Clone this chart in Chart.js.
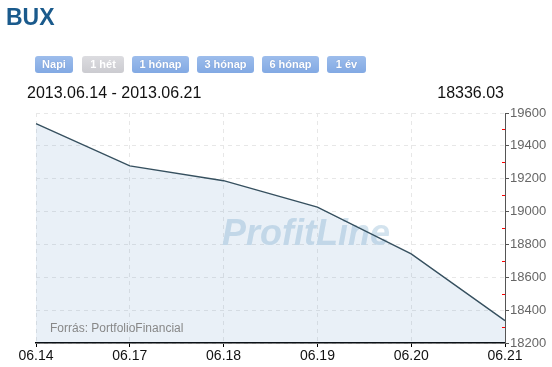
<!DOCTYPE html>
<html>
<head>
<meta charset="utf-8">
<script src="https://cdn.jsdelivr.net/npm/chart.js@4.4.0/dist/chart.umd.min.js"></script>
<style>
  html, body { margin: 0; padding: 0; background: #fff; width: 552px; height: 367px; overflow: hidden; font-family: "Liberation Sans", Arial, sans-serif; }
  #wrap { position: relative; width: 552px; height: 367px; }
  #c { position: absolute; left: 0; top: 0; }
  .abs { position: absolute; white-space: nowrap; }
  #title { left: 6px; top: 4px; font-size: 23px; font-weight: bold; color: #1a5a8c; }
  .btn { position: absolute; top: 56px; height: 17px; line-height: 17px; border-radius: 3px; color: #fff; font-size: 11px; font-weight: bold; text-align: center;
         background: linear-gradient(#9dbdec, #82a9e3); text-shadow: 0 0 1px rgba(80,110,170,0.5); }
  .btn.off { background: linear-gradient(#dcdce0, #cbcbd0); text-shadow: none; }
  #range { left: 27px; top: 84px; font-size: 16px; color: #111; }
  #last { right: 48px; top: 84px; font-size: 16px; color: #111; }
  #src { left: 50px; top: 321px; font-size: 12px; color: #888; }
</style>
</head>
<body>
<div id="wrap">
  <canvas id="c" width="552" height="367"></canvas>
  <div id="title" class="abs">BUX</div>
  <div id="btns"></div>
  <div id="range" class="abs"></div>
  <div id="last" class="abs"></div>
  <div id="src" class="abs">Forrás: PortfolioFinancial</div>
</div>
<script>
const categories = ["06.14", "06.17", "06.18", "06.19", "06.20", "06.21"];
const values = [19535, 19278, 19188, 19027, 18742, 18336.03];
const yTicks = [18200, 18400, 18600, 18800, 19000, 19200, 19400, 19600];
const buttonLabels = ["Napi", "1 hét", "1 hónap", "3 hónap", "6 hónap", "1 év"];
const activeButton = "1 hét";
const dateRange = "2013.06.14 - 2013.06.21";
const lastValue = "18336.03";

const btnGeom = [[35,38],[82,42],[132,57],[197,57],[262,57],[327,39]];
const btns = document.getElementById('btns');
buttonLabels.forEach((t, i) => {
  const d = document.createElement('div');
  d.className = 'btn' + (t === activeButton ? ' off' : '');
  d.style.left = btnGeom[i][0] + 'px';
  d.style.width = btnGeom[i][1] + 'px';
  d.textContent = t;
  btns.appendChild(d);
});
document.getElementById('range').textContent = dateRange;
document.getElementById('last').textContent = lastValue;

const extras = {
  id: 'extras',
  beforeDatasetsDraw(chart) {
    const ctx = chart.ctx;
    ctx.save();
    ctx.font = 'italic bold 36px "Liberation Sans", Arial, sans-serif';
    ctx.fillStyle = '#d3e3ee';
    ctx.textBaseline = 'alphabetic';
    ctx.textAlign = 'center';
    ctx.fillText('ProfitLine', 306, 245);
    ctx.restore();
  },
  afterDraw(chart) {
    const ctx = chart.ctx, y = chart.scales.y;
    ctx.save();
    ctx.strokeStyle = '#ff0000';
    ctx.lineWidth = 1;
    const t = y.ticks.map(k => k.value);
    for (let i = 0; i < t.length - 1; i++) {
      const py = Math.round(y.getPixelForValue((t[i] + t[i+1]) / 2)) + 0.5;
      ctx.beginPath();
      ctx.moveTo(y.left - 3, py);
      ctx.lineTo(y.left, py);
      ctx.stroke();
    }
    ctx.restore();
  }
};

new Chart(document.getElementById('c'), {
  type: 'line',
  data: {
    labels: categories,
    datasets: [{
      data: values,
      borderColor: '#36505f',
      borderWidth: 1.4,
      backgroundColor: 'rgba(70,130,190,0.12)',
      fill: 'start',
      pointRadius: 0,
      tension: 0
    }]
  },
  options: {
    responsive: false,
    animation: false,
    events: [],
    layout: { padding: { left: 36, top: 113, right: 0, bottom: 0 } },
    plugins: { legend: { display: false }, tooltip: { enabled: false } },
    scales: {
      x: {
        type: 'category',
        offset: false,
        grid: { color: '#e7e7e7', lineWidth: 1, drawTicks: true, tickLength: 4, tickColor: '#000' },
        border: { display: true, color: '#000', width: 1.5, dash: [4, 4] },
        ticks: { color: '#111', font: { family: '"Liberation Sans", Arial, sans-serif', size: 14 }, padding: 1, maxRotation: 0, autoSkip: false },
        afterFit(s) { s.height = 24; }
      },
      y: {
        position: 'right',
        min: yTicks[0],
        max: yTicks[yTicks.length - 1],
        afterBuildTicks(s) { s.ticks = yTicks.map(v => ({ value: v })); },
        grid: { color: '#e7e7e7', lineWidth: 1, drawTicks: true, tickLength: 4, tickColor: '#555' },
        border: { display: true, color: '#555', width: 1, dash: [4, 4] },
        ticks: { color: '#666', font: { family: '"Liberation Sans", Arial, sans-serif', size: 13 }, padding: 1,
                 callback: v => String(v) },
        afterFit(s) { s.width = 47; }
      }
    }
  },
  plugins: [extras]
});
</script>
</body>
</html>
